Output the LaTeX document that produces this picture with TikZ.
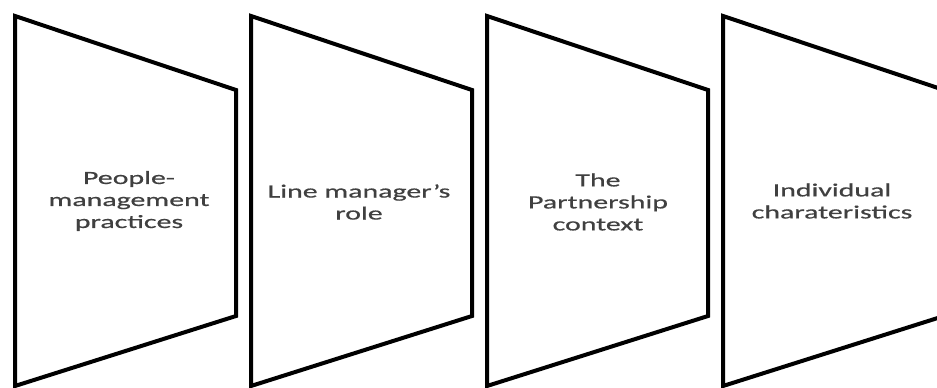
\documentclass[tikz,border=0pt]{standalone}
\usepackage{fontspec}
\newfontfamily\panelfont[FakeStretch=1.6,FakeBold=0.6]{Carlito}
\definecolor{panelLine}{RGB}{0,0,0}
\definecolor{panelText}{RGB}{64,64,64}

\begin{document}
\begin{tikzpicture}[x=.75pt,y=-.75pt,
      panel/.style={draw=panelLine, line width=3pt, line join=miter},
      label/.style={font=\panelfont\fontsize{14}{16.5}\selectfont,
        text=panelText, align=center}]
      \useasboundingbox (0,0) rectangle (937,388);
      \fill[white] (0,0) rectangle (937,388);

      \foreach \i in {0,...,3}{
        \path[panel] ({15+236*\i},16) -- ++(221,74) -- ++(0,226)
          -- ++(-221,70) -- cycle;}

      \node[label] (practices) at (129,201) {People-\\management\\practices};
      \node[label] (role) at (359,202) {Line manager’s\\role};
      \node[label] (context) at (598,202) {The\\Partnership\\context};
      \node[label] (individual) at (832,201) {Individual\\charateristics};
    \end{tikzpicture}
\end{document}
